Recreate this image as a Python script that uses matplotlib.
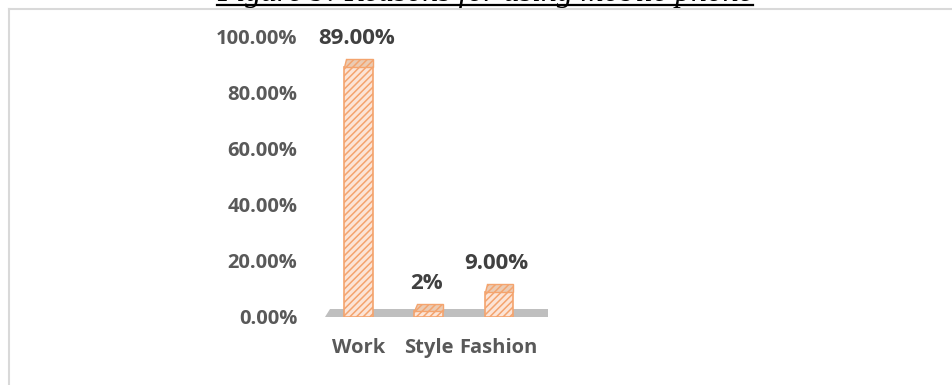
import matplotlib
matplotlib.use('Agg')
import matplotlib.pyplot as plt
from matplotlib.patches import Polygon
from matplotlib.lines import Line2D
from matplotlib.ticker import FuncFormatter

# ----------------------------
# Dados
# ----------------------------
categorias = ['Work', 'Style', 'Fashion']
valores = [0.89, 0.02, 0.09]
rotulos = ['89.00%', '2%', '9.00%']
titulo = 'Figure 9: Reasons for using mobile phone'

CINZA_TEXTO = '#595959'
LARANJA = '#ED7D31'
PESSEGO = '#FCE4D6'
TAMPA = '#EBCBB3'

plt.rcParams['font.family'] = ['Open Sans', 'DejaVu Sans']
plt.rcParams['hatch.color'] = LARANJA
plt.rcParams['hatch.linewidth'] = 1.1

fig = plt.figure(figsize=(9.52, 3.85), dpi=100)

# moldura cinza clara do gráfico
fig.add_artist(Line2D([9 / 952, 9 / 952], [0, 1 - 9 / 385], transform=fig.transFigure,
                      color='#D9D9D9', lw=1.5))
fig.add_artist(Line2D([9 / 952, 1], [1 - 9 / 385, 1 - 9 / 385], transform=fig.transFigure,
                      color='#D9D9D9', lw=1.5))

# título sublinhado (a parte de cima fica fora da página)
t = fig.text(485 / 952, 1 - 1 / 385, titulo, ha='center', va='baseline',
             family='Liberation Serif', style='italic', fontsize=22.9, color='black')
fig.canvas.draw()
bb = t.get_window_extent()
fig.add_artist(Line2D([bb.x0 / 952, bb.x1 / 952], [1 - 5 / 385, 1 - 5 / 385],
                      transform=fig.transFigure, color='black', lw=1.6))

ax = fig.add_axes([325 / 952, (385 - 317) / 385, 223 / 952, 281 / 385])
x = [0, 1, 2]
largura = 0.41
topo = 0.028  # profundidade da tampa 3D

# piso cinza em perspectiva
piso = Polygon([(-0.48, 0.0), (2.7, 0.0), (2.7, topo), (-0.41, topo)],
               closed=True, facecolor='#BFBFBF', edgecolor='none', zorder=1)
ax.add_patch(piso)

ax.bar(x, valores, width=largura, color=PESSEGO, edgecolor='#F4A46E', linewidth=1.2,
       hatch='/////', zorder=2)

# tampas das barras
for xi, v in zip(x, valores):
    l, r = xi - largura / 2, xi + largura / 2
    tampa = Polygon([(l, v), (r, v), (r, v + topo), (l + 0.03, v + topo)], closed=True,
                    facecolor=TAMPA, edgecolor='#F4A46E', linewidth=1.0, hatch='/////', zorder=3)
    ax.add_patch(tampa)

for xi, v, r in zip(x, valores, rotulos):
    ax.text(xi - 0.03, v + topo + 0.072, r, ha='center', va='center', fontsize=16,
            fontweight='bold', color='#404040')

ax.set_xlim(-0.48, 2.7)
ax.set_ylim(0, 1.0)
ax.set_yticks([0, 0.2, 0.4, 0.6, 0.8, 1.0])
ax.yaxis.set_major_formatter(FuncFormatter(lambda v, p: f'{v * 100:.2f}%'))
ax.set_xticks(x)
ax.set_xticklabels(categorias)
ax.tick_params(axis='y', length=0, pad=20, labelsize=14.5, labelcolor=CINZA_TEXTO)
ax.tick_params(axis='x', length=0, pad=15, labelsize=14.5, labelcolor=CINZA_TEXTO)
for lab in ax.get_xticklabels() + ax.get_yticklabels():
    lab.set_fontweight('bold')
for s in ax.spines.values():
    s.set_visible(False)
ax.patch.set_alpha(0)

fig.savefig('out.png', dpi=100)
